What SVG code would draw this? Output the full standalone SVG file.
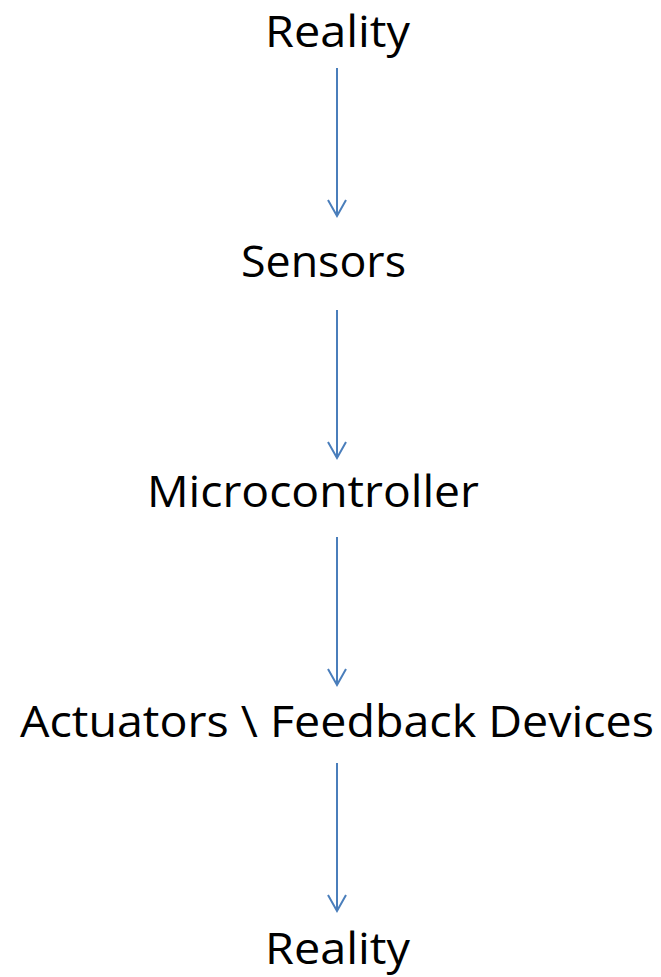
<svg xmlns="http://www.w3.org/2000/svg" width="661" height="977" viewBox="0 0 661 977">
<style>
.t{font-family:"Open Sans","Noto Sans",sans-serif;font-size:44px;fill:#000}
.c{stroke:#4a7ebb;stroke-width:2;fill:none}
</style>
<defs>
<marker id="a" markerUnits="userSpaceOnUse" markerWidth="24" markerHeight="20" refX="18" refY="10" orient="auto">
<path d="M2,1 L18,10 L2,19" fill="none" stroke="#4a7ebb" stroke-width="2"/>
</marker>
</defs>
<rect width="661" height="977" fill="#fff"/>
<g id="connectors">
<line class="c" x1="337" y1="68" x2="337" y2="216" marker-end="url(#a)"/>
<line class="c" x1="337" y1="310" x2="337" y2="458" marker-end="url(#a)"/>
<line class="c" x1="337" y1="537" x2="337" y2="685" marker-end="url(#a)"/>
<line class="c" x1="337" y1="763" x2="337" y2="911" marker-end="url(#a)"/>
</g>
<g id="reality-top"><text class="t" x="265" y="47" textLength="145" lengthAdjust="spacingAndGlyphs">Reality</text></g>
<g id="sensors"><text class="t" x="241" y="277" textLength="165" lengthAdjust="spacingAndGlyphs">Sensors</text></g>
<g id="microcontroller"><text class="t" x="147" y="507" textLength="332" lengthAdjust="spacingAndGlyphs">Microcontroller</text></g>
<g id="actuators"><text class="t" x="20" y="737" textLength="634" lengthAdjust="spacingAndGlyphs">Actuators \ Feedback Devices</text></g>
<g id="reality-bottom"><text class="t" x="265" y="964" textLength="145" lengthAdjust="spacingAndGlyphs">Reality</text></g>
</svg>
